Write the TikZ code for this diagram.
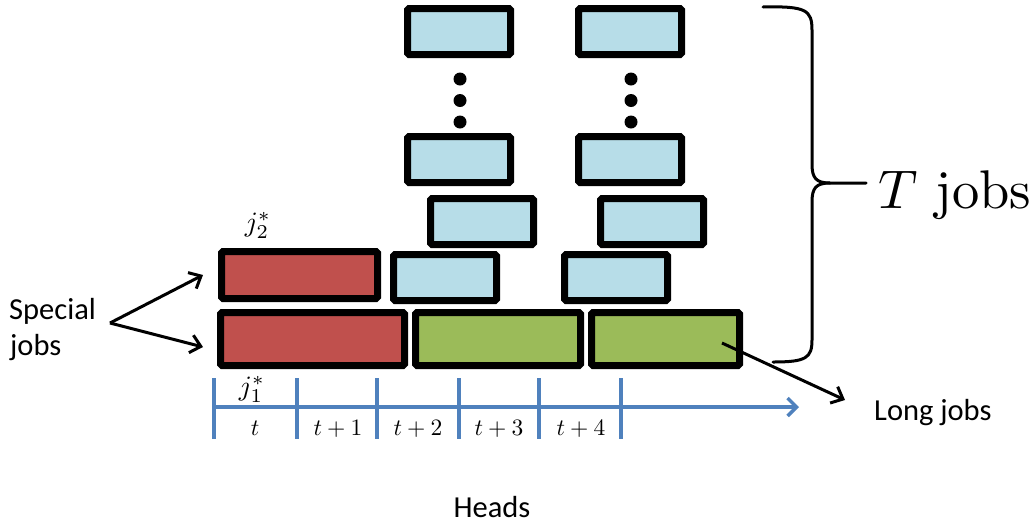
\documentclass[tikz,border=0pt]{standalone}
\usepackage{fontspec}
\newfontfamily\calfont{Carlito}
\usetikzlibrary{arrows.meta,calc}
\definecolor{jobred}{HTML}{C0504D}
\definecolor{jobgreen}{HTML}{9BBB59}
\definecolor{jobblue}{HTML}{B7DDE8}
\definecolor{axisblue}{HTML}{4F81BD}
\begin{document}
\begin{tikzpicture}[x=1pt,y=-1pt,
  jobbox/.style={draw=black, line width=7pt, rounded corners=1.5pt, inner sep=0pt, minimum height=46pt},
  bluejob/.style={jobbox, fill=jobblue, minimum width=103pt},
  redjob/.style={jobbox, fill=jobred},
  greenjob/.style={jobbox, fill=jobgreen, minimum height=53pt},
  vdot/.style={circle, fill=black, inner sep=0pt, minimum size=13pt},
  tick/.style={axisblue, line width=3.5pt},
  tlabel/.style={scale=2.35, anchor=base},
  sans/.style={font=\calfont\fontsize{30.5}{37}\selectfont, align=left},
  callout/.style={black, line width=3pt, -{Straight Barb[length=10pt,width=18pt,line width=3pt]}}
]
\useasboundingbox (0,0) rectangle (1034,523);

% blue jobs
\node[bluejob] (b1) at (459,31.5) {};
\node[bluejob] (b2) at (630,31.5) {};
\node[bluejob] (b3) at (459,159.5) {};
\node[bluejob] (b4) at (630,159.5) {};
\node[bluejob] (b5) at (482,221.5) {};
\node[bluejob] (b6) at (652,221.5) {};
\node[bluejob] (b7) at (445,277.5) {};
\node[bluejob] (b8) at (616,277.5) {};

% dots
\node[vdot] (d1) at (460,79) {};
\node[vdot] (d2) at (460,100.5) {};
\node[vdot] (d3) at (460,122) {};
\node[vdot] (d4) at (631,79) {};
\node[vdot] (d5) at (631,100.5) {};
\node[vdot] (d6) at (631,122) {};

% special jobs
\node[redjob, minimum width=156pt, minimum height=47pt] (r2) at (299.5,275) {};
\node[redjob, minimum width=184pt, minimum height=53pt] (r1) at (312.5,339) {};
% long jobs
\node[greenjob, minimum width=165pt] (g1) at (498,339) {};
\node[greenjob, minimum width=148pt] (g2) at (665.5,339) {};

% labels j
\node[scale=2.8] (j2) at (258,225) {$j_2^*$};
\node[scale=2.8] (j1) at (252,389) {$j_1^*$};

% axis
\coordinate (ax0) at (212,407);
\coordinate (ax1) at (799,407);
\draw[axisblue, line width=3.5pt, -{Straight Barb[length=9pt,width=18pt,line width=3.5pt]}] (ax0) -- (ax1);
\foreach \x in {214,297,377,459,539,621} {
  \draw[tick] (\x,378) -- (\x,439);
}
\node[tlabel] (l0) at (255,435) {$t$};
\node[tlabel] (l1) at (338,435) {$t+1$};
\node[tlabel] (l2) at (418,435) {$t+2$};
\node[tlabel] (l3) at (499,435) {$t+3$};
\node[tlabel] (l4) at (581,435) {$t+4$};

% special jobs callout
\node[sans, anchor=base west, inner sep=0pt] (sp) at (9,319) {Special};
\node[sans, anchor=base west, inner sep=0pt] (sp2) at (10,355) {jobs};
\coordinate (spk) at (110,323);
\coordinate (spt1) at (203,275);
\coordinate (spt2) at (203,347);
\draw[callout] (spk) -- (spt1);
\draw[callout] (spk) -- (spt2);

% long jobs callout
\coordinate (lgs) at (722,343);
\coordinate (lgt) at (845,400);
\draw[callout] (lgs) -- (lgt);
\node[sans, anchor=base west, inner sep=0pt] (lj) at (874,420) {Long jobs};

% heads
\node[sans, anchor=base, inner sep=0pt] (hd) at (492,517) {Heads};

% brace
\draw[line width=3pt, line cap=round]
  (763,7) .. controls (806,6) and (812,10) .. (812,30)
  -- (812,164) .. controls (812,178) and (816,183) .. (830,183)
  -- (866,183);
\draw[line width=3pt, line cap=round]
  (830,183) .. controls (816,183) and (812,188) .. (812,202)
  -- (812,340) .. controls (812,358) and (806,362) .. (773,362);
\node[scale=5.45, anchor=base west, inner sep=0pt] (tj) at (877,208) {$T$ jobs};
\end{tikzpicture}
\end{document}
